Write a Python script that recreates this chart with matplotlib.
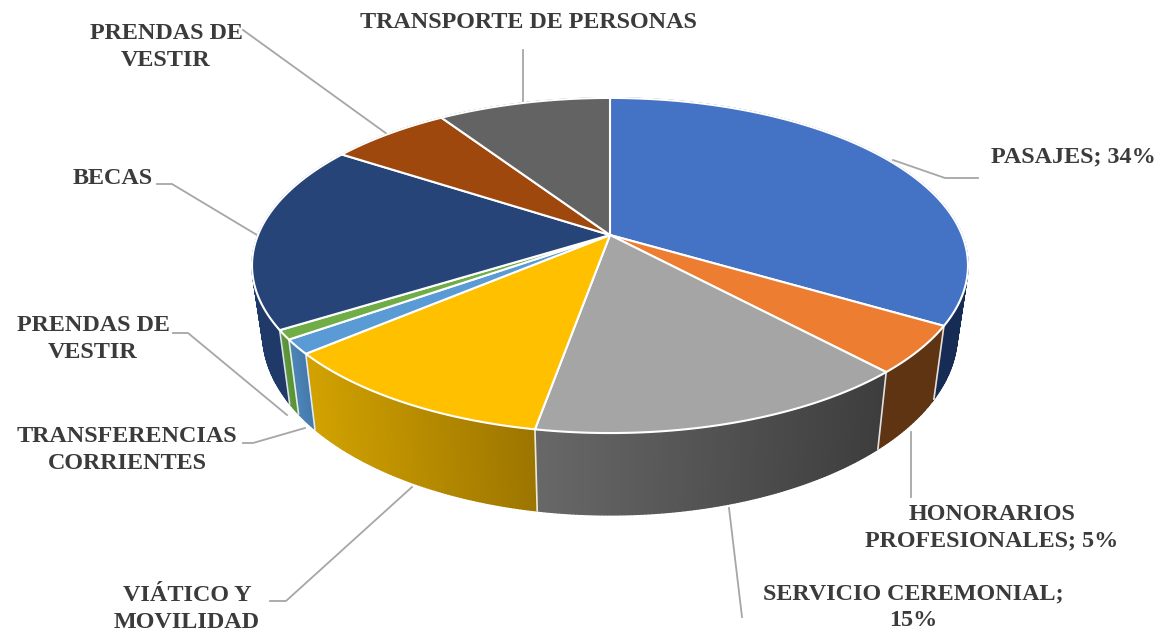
import numpy as np
import matplotlib
matplotlib.use('Agg')
import matplotlib.pyplot as plt
from matplotlib.colors import to_rgb

# Share of each slice (clockwise from the top)
categories = ['PASAJES', 'HONORARIOS PROFESIONALES', 'SERVICIO CEREMONIAL', 'VIATICO Y MOVILIDAD',
              'TRANSFERENCIAS CORRIENTES', 'PRENDAS DE VESTIR', 'BECAS', 'PRENDAS DE VESTIR 2',
              'TRANSPORTE DE PERSONAS']
shares = [33.5, 4.6, 14.7, 11.0, 1.4, 0.9, 18.1, 6.5, 9.3]
top_colors = ['#4472C4', '#ED7D31', '#A5A5A5', '#FFC000', '#5B9BD5', '#70AD47', '#264478', '#9E480E', '#636363']
side_left = ['#172C55', '#5F3413', '#686868', '#D2A200', '#4D84B8', '#5E9A3A', '#1F3A68', '#6E320A', '#444444']
side_right = ['#172C55', '#5F3413', '#3D3D3D', '#9C7500', '#4578AA', '#578F36', '#1F3A68', '#6E320A', '#444444']

labels = ['PASAJES; 34%', 'HONORARIOS\nPROFESIONALES; 5%', 'SERVICIO CEREMONIAL;\n15%', 'VIÁTICO Y\nMOVILIDAD',
          'TRANSFERENCIAS\nCORRIENTES', 'PRENDAS DE\nVESTIR', 'BECAS', 'PRENDAS DE\nVESTIR',
          'TRANSPORTE DE PERSONAS']
label_pos = [(1073, 157), (992, 528), (913, 607), (187, 609), (127, 450), (93, 339), (113, 179), (166, 47), (528, 23)]
leaders = [
    [(893, 160), (945, 178), (978, 178)],
    [(911, 432), (911, 497)],
    [(729, 508), (742, 617)],
    [(412, 487), (286, 601), (270, 601)],
    [(305, 428), (253, 443), (243, 443)],
    [(287, 415), (188, 333), (173, 333)],
    [(257, 235), (172, 184), (157, 184)],
    [(387, 134), (243, 30)],
    [(523, 103), (523, 50)],
]

# Perspective of the pie in pixels
cx, cy = 610, 235
a, b, k = 352, 162, 0.182
depth_dy, depth_sx, depth_sy = 66, 0.97, 1.08


def top_rim(theta):
    u, v = np.sin(theta), np.cos(theta)
    w = 1 + k * v
    return a * u / w, -b * v / w


def project_top(theta):
    x, y = top_rim(theta)
    return cx + x, cy + y


def project_bottom(theta):
    x, y = top_rim(theta)
    return cx + depth_sx * x, cy + depth_dy + depth_sy * y


fig = plt.figure(figsize=(11.63, 6.35), dpi=100)
ax = fig.add_axes([0, 0, 1, 1])
ax.set_xlim(0, 1163)
ax.set_ylim(635, 0)
ax.axis('off')

for pts in leaders:
    ax.plot(*zip(*pts), color='#A6A6A6', lw=1.3, zorder=1, solid_joinstyle='round')

edges = np.radians(np.concatenate([[0], np.cumsum(shares)]) * 3.6)

# Side wall, strip by strip so the shading can run across x
for i in range(len(shares)):
    th = np.linspace(edges[i], edges[i + 1], max(3, int((edges[i + 1] - edges[i]) * 120)))
    xt, yt = project_top(th)
    xb, yb = project_bottom(th)
    c_left, c_right = np.array(to_rgb(side_left[i])), np.array(to_rgb(side_right[i]))
    x_lo, x_hi = xt.min(), xt.max()
    for j in range(len(th) - 1):
        f = ((xt[j] + xt[j + 1]) / 2 - x_lo) / (x_hi - x_lo)
        col = c_left + (c_right - c_left) * f
        ax.fill([xt[j], xt[j + 1], xb[j + 1], xb[j]], [yt[j], yt[j + 1], yb[j + 1], yb[j]],
                color=col, lw=1.0, zorder=2)
    # white seam on the wall at the slice start (only the front ones show)
    if np.cos(edges[i]) < 0.3:
        x0, y0 = project_top(edges[i])
        x1, y1 = project_bottom(edges[i])
        ax.plot([x0, x1], [y0, y1], color='white', lw=1.2, alpha=0.85, zorder=3)

# Top face
for i in range(len(shares)):
    th = np.linspace(edges[i], edges[i + 1], 120)
    xt, yt = project_top(th)
    ax.fill(np.r_[cx, xt], np.r_[cy, yt], facecolor=top_colors[i], edgecolor='white', lw=1.5,
            joinstyle='round', zorder=4)

for (x, y), txt in zip(label_pos, labels):
    ax.text(x, y, txt, ha='center', va='center', family='Liberation Serif', weight='bold',
            fontsize=17.4, color='#3B3B3B', linespacing=1.33, zorder=5)

fig.savefig('out.png', dpi=100, facecolor='white')
